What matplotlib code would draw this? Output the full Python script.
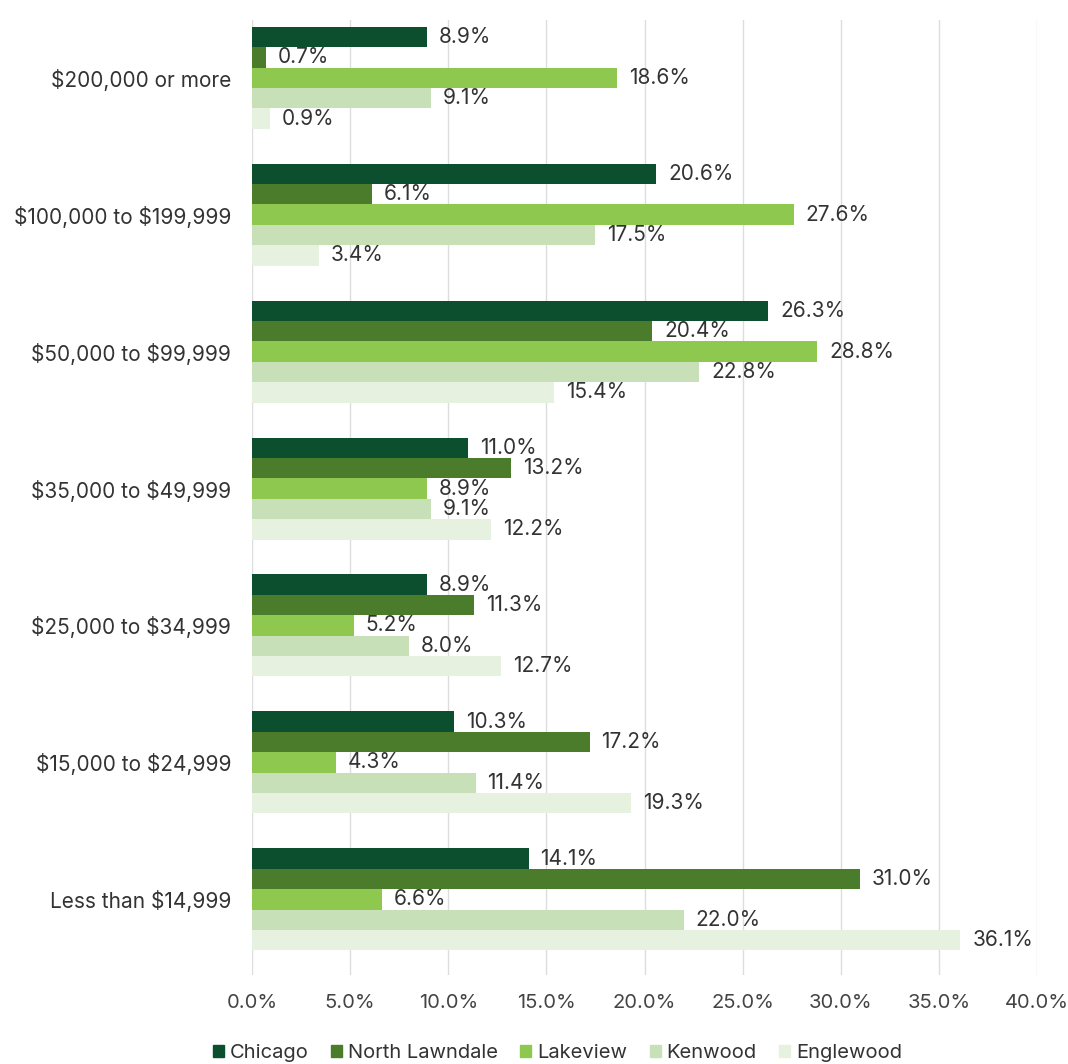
import numpy as np
import matplotlib
matplotlib.use("Agg")
import matplotlib.pyplot as plt
from matplotlib.patches import Patch

# ── Data ──────────────────────────────────────────────────────────────
categories = ["Less than $14,999", "$15,000 to $24,999", "$25,000 to $34,999",
              "$35,000 to $49,999", "$50,000 to $99,999", "$100,000 to $199,999",
              "$200,000 or more"]
series_names = ["Chicago", "North Lawndale", "Lakeview", "Kenwood", "Englewood"]
chicago = [14.1, 10.3, 8.9, 11.0, 26.3, 20.6, 8.9]
north_lawndale = [31.0, 17.2, 11.3, 13.2, 20.4, 6.1, 0.7]
lakeview = [6.6, 4.3, 5.2, 8.9, 28.8, 27.6, 18.6]
kenwood = [22.0, 11.4, 8.0, 9.1, 22.8, 17.5, 9.1]
englewood = [36.1, 19.3, 12.7, 12.2, 15.4, 3.4, 0.9]
xticks = [0, 5, 10, 15, 20, 25, 30, 35, 40]

colors = ["#0b4f2e", "#4a7c2b", "#8ec84f", "#c7e0b8", "#e7f1df"]

plt.rcParams["font.family"] = ["Inter", "DejaVu Sans"]
plt.rcParams["text.parse_math"] = False

fig = plt.figure(figsize=(10.68, 10.64), dpi=100)
ax = fig.add_axes([0.236, 0.084, 0.735, 0.897])

all_series = [chicago, north_lawndale, lakeview, kenwood, englewood]
y = np.arange(len(categories))
h = 0.149
for i, (name, vals, c) in enumerate(zip(series_names, all_series, colors)):
    pos = y + (2 - i) * h
    ax.barh(pos, vals, height=h, color=c, label=name, zorder=2)
    for p, v in zip(pos, vals):
        ax.text(v + 0.6, p, f"{v:.1f}%", va="center", ha="left",
                fontsize=15, color="#333333", zorder=3)

ax.set_xlim(0, 40)
ax.set_ylim(-0.55, 6.42)
ax.set_xticks(xticks)
ax.set_xticklabels([f"{t:.1f}%" for t in xticks], fontsize=14.5, color="#444444")
ax.set_yticks(y)
ax.set_yticklabels(categories, fontsize=15, color="#333333")
ax.tick_params(length=0)
ax.tick_params(axis="y", pad=15)
ax.tick_params(axis="x", pad=14)
ax.grid(axis="x", color="#dddddd", linewidth=1, zorder=0)
for s in ax.spines.values():
    s.set_visible(False)

handles = [Patch(color=c, label=n) for n, c in zip(series_names, colors)]
fig.legend(handles=handles, loc="lower center", bbox_to_anchor=(0.522, -0.015),
           ncol=5, frameon=False, fontsize=14.5, handlelength=0.55, handleheight=0.55,
           columnspacing=1.1, handletextpad=0.3, labelcolor="#333333")

fig.savefig("out.png", dpi=100)
